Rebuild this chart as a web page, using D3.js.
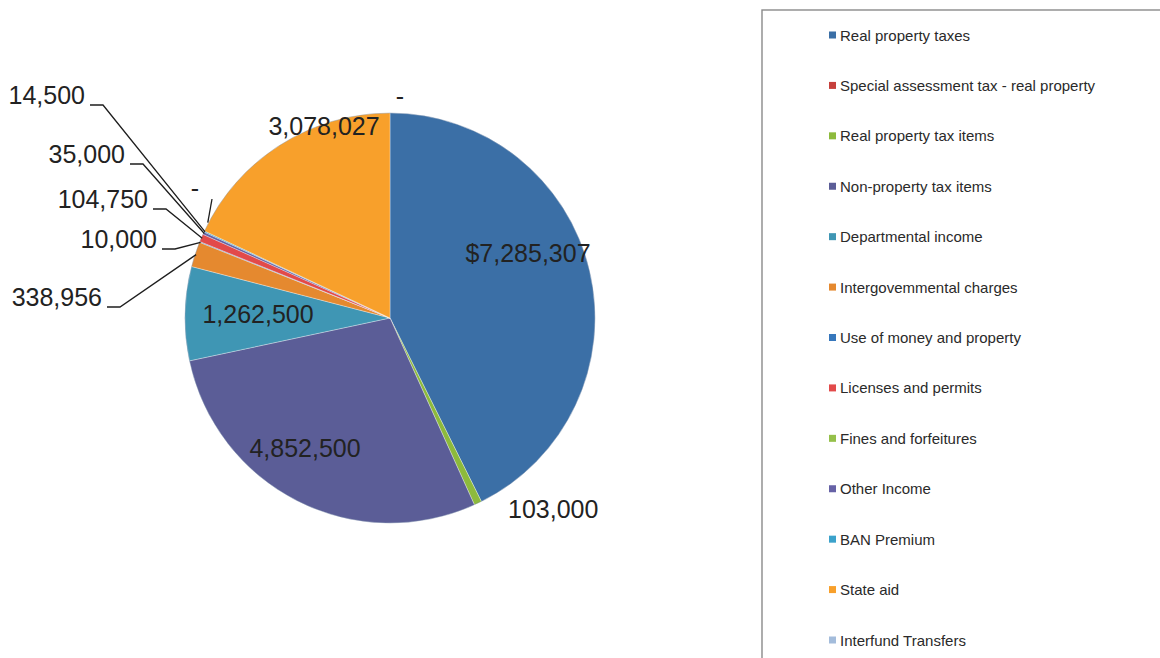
<!DOCTYPE html>
<html>
<head>
<meta charset="utf-8">
<script src="https://cdn.jsdelivr.net/npm/d3@7"></script>
<style>
  html, body { margin: 0; padding: 0; background: #fff; }
  svg { display: block; font-family: "Liberation Sans", Arial, sans-serif; }
</style>
</head>
<body>
<svg id="chart" width="1160" height="658"></svg>
<script>
// Revenue sources, in the order the slices run clockwise from 12 o'clock
const categories = [
  "Real property taxes",
  "Special assessment tax - real property",
  "Real property tax items",
  "Non-property tax items",
  "Departmental income",
  "Intergovemmental charges",
  "Use of money and property",
  "Licenses and permits",
  "Fines and forfeitures",
  "Other Income",
  "BAN Premium",
  "State aid",
  "Interfund Transfers"
];
const amounts = [7285307, 0, 103000, 4852500, 1262500, 338956, 10000, 104750, 0, 35000, 14500, 3078027, 0];
const valueLabels = ["$7,285,307", "-", "103,000", "4,852,500", "1,262,500", "338,956",
                     "10,000", "104,750", "-", "35,000", "14,500", "3,078,027", "-"];

const palette = ["#3b6fa6", "#c6403c", "#8dba3c", "#5b5d97", "#3f96b4", "#e5892f",
                 "#3677bc", "#e24a4a", "#95c04a", "#6662a6", "#3ba2cb", "#f8a02b", "#a3bcdb"];

// Label placement relative to the pie centre (dx, dy = text anchor point at baseline)
// mode: "in" = text only, "callout" = right-anchored text with an elbow leader,
// "tick" = small dash with a short straight leader
const labelLayout = {
  "Real property taxes":        { dx: 138,  dy: -56,  anchor: "middle", mode: "in" },
  "Real property tax items":    { dx: 118,  dy: 200,  anchor: "start",  mode: "in" },
  "Non-property tax items":     { dx: -85,  dy: 139,  anchor: "middle", mode: "in" },
  "Departmental income":        { dx: -132, dy: 5,    anchor: "middle", mode: "in" },
  "Intergovemmental charges":   { dx: -288, dy: -12,  anchor: "end",    mode: "callout" },
  "Use of money and property":  { dx: -233, dy: -70,  anchor: "end",    mode: "callout" },
  "Licenses and permits":       { dx: -242, dy: -110, anchor: "end",    mode: "callout" },
  "Fines and forfeitures":      { dx: -195, dy: -121, anchor: "middle", mode: "tick" },
  "Other Income":               { dx: -265, dy: -155, anchor: "end",    mode: "callout" },
  "BAN Premium":                { dx: -305, dy: -214, anchor: "end",    mode: "callout" },
  "State aid":                  { dx: -66,  dy: -183, anchor: "middle", mode: "in" },
  "Interfund Transfers":        { dx: 10,   dy: -213, anchor: "middle", mode: "in" }
};

const rows = categories.map((c, i) => ({ name: c, value: amounts[i], label: valueLabels[i], color: palette[i] }));

const svg = d3.select("#chart");
const cx = 390, cy = 318, radius = 205;

const pie = d3.pie().sort(null).value(d => d.value).startAngle(0).endAngle(2 * Math.PI);
const arcs = pie(rows);
const arc = d3.arc().innerRadius(0).outerRadius(radius);

const g = svg.append("g").attr("transform", `translate(${cx},${cy})`);

g.selectAll("path.slice")
  .data(arcs.filter(d => d.value > 0))
  .join("path")
  .attr("class", "slice")
  .attr("d", arc)
  .attr("fill", d => d.data.color)
  .attr("stroke", "#ffffff")
  .attr("stroke-opacity", 0.55)
  .attr("stroke-width", 0.6);

// thin darker rim around the pie
g.append("circle").attr("r", radius).attr("fill", "none")
  .attr("stroke", "#2f4f7a").attr("stroke-opacity", 0.25).attr("stroke-width", 1);

// point on the rim at a slice's middle angle
function rimPoint(d, r) {
  const a = (d.startAngle + d.endAngle) / 2;
  return [r * Math.sin(a), -r * Math.cos(a)];
}

const labelFont = 25;
const labelled = arcs.filter(d => labelLayout[d.data.name]);

const labelGroup = g.append("g");
labelled.forEach(d => {
  const L = labelLayout[d.data.name];
  labelGroup.append("text")
    .attr("x", L.dx).attr("y", L.dy)
    .attr("text-anchor", L.anchor)
    .attr("font-size", labelFont)
    .attr("fill", "#222")
    .text(d.data.label);

  if (L.mode === "callout") {
    const [px, py] = rimPoint(d, radius - 1);
    const x0 = L.dx + 5, y0 = L.dy + 1;
    labelGroup.append("path")
      .attr("d", d3.line()([[x0, y0], [x0 + 13, y0], [px, py]]))
      .attr("fill", "none").attr("stroke", "#1e1e1e").attr("stroke-width", 1.3);
  } else if (L.mode === "tick") {
    const [px, py] = rimPoint(d, radius - 1);
    labelGroup.append("path")
      .attr("d", d3.line()([[L.dx + 17, L.dy + 2], [px + 4, py - 12]]))
      .attr("fill", "none").attr("stroke", "#1e1e1e").attr("stroke-width", 1.3);
  }
});

// Legend
const legendBox = { x: 762, y: 10 };
svg.append("rect")
  .attr("x", legendBox.x).attr("y", legendBox.y)
  .attr("width", 460).attr("height", 700)
  .attr("fill", "#fff").attr("stroke", "#8a8a8a").attr("stroke-width", 1.4);

const ly = d3.scalePoint().domain(categories).range([35, 640]);
const legend = svg.append("g");
const items = legend.selectAll("g.item").data(rows).join("g")
  .attr("class", "item")
  .attr("transform", d => `translate(829,${ly(d.name)})`);
items.append("rect").attr("x", 0).attr("y", -3.5).attr("width", 7).attr("height", 7)
  .attr("fill", d => d.color);
items.append("text").attr("x", 11).attr("y", 5.5)
  .attr("font-size", 15).attr("fill", "#2a2a2a")
  .text(d => d.name);
</script>
</body>
</html>
